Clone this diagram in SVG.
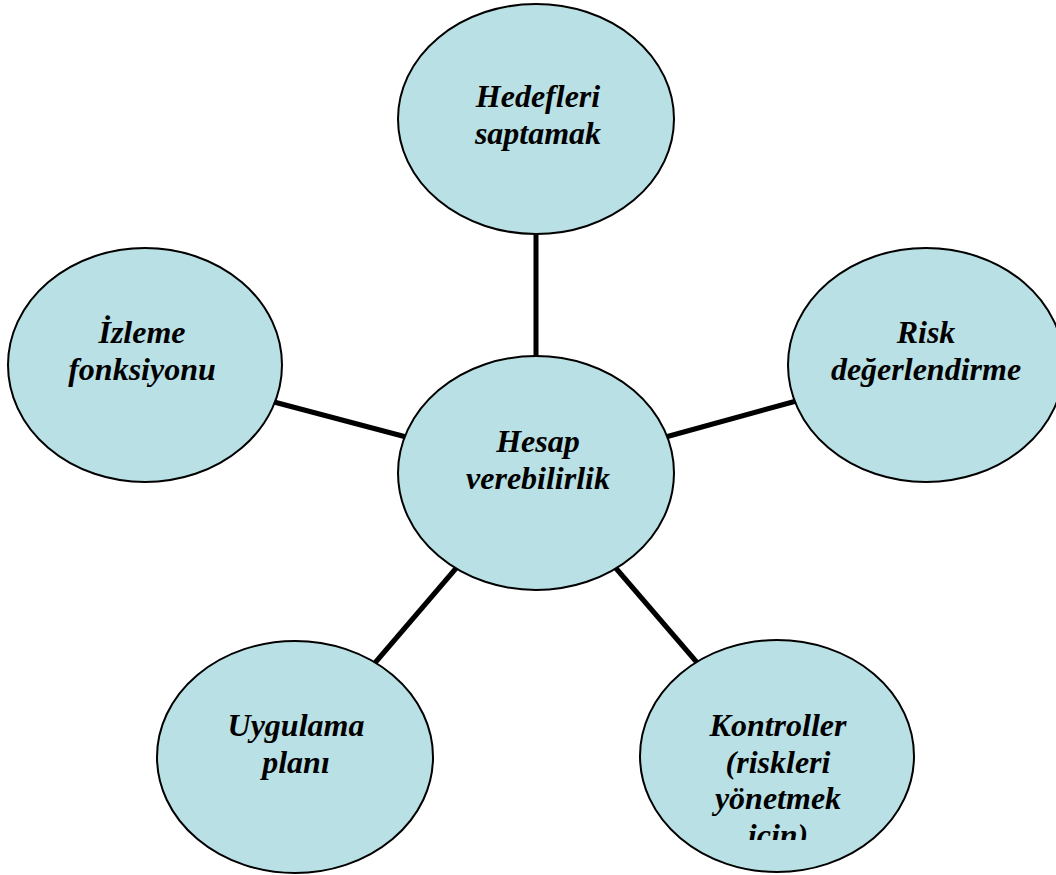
<svg xmlns="http://www.w3.org/2000/svg" width="1056" height="875" viewBox="0 0 1056 875">
<style>
.n{fill:#B9E0E4;stroke:#000;stroke-width:2}
.t{font-family:"Liberation Serif","Times New Roman",serif;font-weight:bold;font-style:italic;font-size:32px;fill:#000;text-anchor:middle}
.c{stroke:#000;stroke-width:5;fill:none}
</style>
<defs>
<clipPath id="kclip"><rect x="640" y="600" width="300" height="240"/></clipPath>
</defs>
<rect width="1056" height="875" fill="#fff"/>
<g id="connectors">
<line class="c" x1="536" y1="228" x2="536" y2="360"/>
<line class="c" x1="662" y1="438" x2="800" y2="400"/>
<line class="c" x1="274" y1="402" x2="410" y2="438"/>
<line class="c" x1="458" y1="566" x2="374" y2="664"/>
<line class="c" x1="614" y1="566" x2="700" y2="666"/>
</g>
<g id="hedefleri">
<ellipse class="n" cx="536" cy="119" rx="138" ry="115"/>
<text class="t" x="538" y="107">Hedefleri</text>
<text class="t" x="538" y="144">saptamak</text>
</g>
<g id="hesap">
<ellipse class="n" cx="536" cy="473" rx="138" ry="117"/>
<text class="t" x="538" y="452">Hesap</text>
<text class="t" x="538" y="489">verebilirlik</text>
</g>
<g id="risk">
<ellipse class="n" cx="926" cy="365" rx="138" ry="117"/>
<text class="t" x="926" y="343">Risk</text>
<text class="t" x="926" y="380">değerlendirme</text>
</g>
<g id="izleme">
<ellipse class="n" cx="145" cy="365" rx="137" ry="117"/>
<text class="t" x="142" y="343">İzleme</text>
<text class="t" x="142" y="380">fonksiyonu</text>
</g>
<g id="uygulama">
<ellipse class="n" cx="295" cy="757" rx="138" ry="116"/>
<text class="t" x="296" y="736">Uygulama</text>
<text class="t" x="296" y="773">planı</text>
</g>
<g id="kontroller">
<ellipse class="n" cx="777" cy="756" rx="137" ry="116"/>
<g clip-path="url(#kclip)">
<text class="t" x="778" y="736">Kontroller</text>
<text class="t" x="778" y="773">(riskleri</text>
<text class="t" x="778" y="809">yönetmek</text>
<text class="t" x="778" y="846">için)</text>
</g>
</g>
</svg>
